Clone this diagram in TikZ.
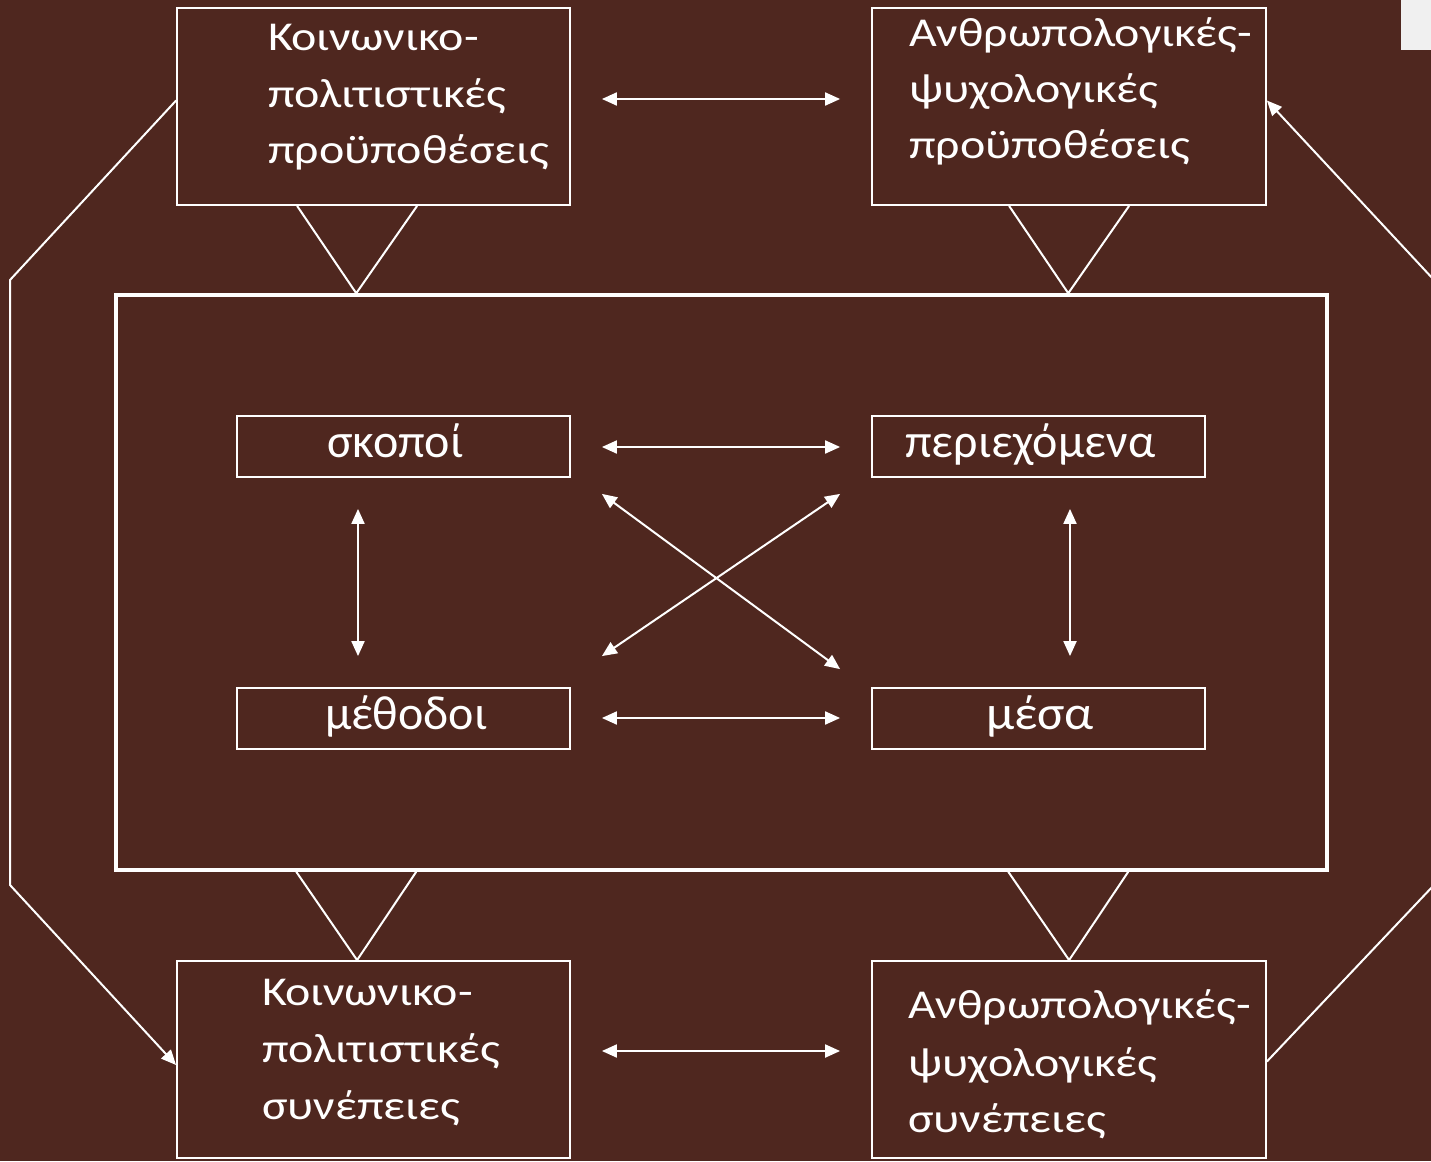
\documentclass[tikz,border=0pt]{standalone}
\usepackage{fontspec}
\setmainfont{Carlito}
\usetikzlibrary{arrows.meta,calc}
\definecolor{bgbrown}{RGB}{79,39,31}
\definecolor{tabgray}{RGB}{240,240,240}
\newcommand{\wideline}[1]{\scalebox{1.17}[1]{#1}}
\tikzset{
  box/.style={draw=white, line width=1.8pt, minimum width=#1, inner sep=0pt},
  bigtxt/.style={text=white, anchor=base west, inner sep=0pt, font=\fontsize{41}{49}\selectfont},
  midtxt/.style={text=white, anchor=base west, inner sep=0pt, font=\fontsize{48}{58}\selectfont},
  con/.style={draw=white, line width=2pt},
  dbl/.style={con, {Triangle[length=15pt,width=13pt]}-{Triangle[length=15pt,width=13pt]}},
  sgl/.style={con, -{Triangle[length=15pt,width=13pt]}},
}
\begin{document}
\begin{tikzpicture}[x=1pt,y=-1pt]
\fill[bgbrown] (0,0) rectangle (1431,1161);
\useasboundingbox (0,0) rectangle (1431,1161);
\fill[tabgray] (1401,0) rectangle (1431,50);

% outer boxes
\node[box=393pt, minimum height=197pt] (tl) at (373.5,106.5) {};
\node[box=394pt, minimum height=197pt] (tr) at (1069,106.5) {};
\node[box=393pt, minimum height=197pt] (bl) at (373.5,1059.5) {};
\node[box=394pt, minimum height=197pt] (br) at (1069,1059.5) {};
% frame
\node[draw=white, line width=3.5pt, minimum width=1211pt, minimum height=575pt, inner sep=0pt] (frame) at (721.5,582.5) {};
% inner boxes
\node[box=333pt, minimum height=61pt] (sk) at (403.5,446.5) {};
\node[box=333pt, minimum height=61pt] (pe) at (1038.5,446.5) {};
\node[box=333pt, minimum height=61pt] (me) at (403.5,718.5) {};
\node[box=333pt, minimum height=61pt] (ms) at (1038.5,718.5) {};

% texts
\node[bigtxt] (tl1) at (268,51) {\wideline{Κοινωνικο-}};
\node[bigtxt] (tl2) at (268,107.5) {\wideline{πολιτιστικές}};
\node[bigtxt] (tl3) at (268,164) {\wideline{προϋποθέσεις}};
\node[bigtxt] (tr1) at (909,47) {\wideline{Ανθρωπολογικές-}};
\node[bigtxt] (tr2) at (909,103) {\wideline{ψυχολογικές}};
\node[bigtxt] (tr3) at (909,159) {\wideline{προϋποθέσεις}};
\node[bigtxt] (bl1) at (262,1005) {\wideline{Κοινωνικο-}};
\node[bigtxt] (bl2) at (262,1062) {\wideline{πολιτιστικές}};
\node[bigtxt] (bl3) at (262,1119) {\wideline{συνέπειες}};
\node[bigtxt] (br1) at (908,1018) {\wideline{Ανθρωπολογικές-}};
\node[bigtxt] (br2) at (908,1076) {\wideline{ψυχολογικές}};
\node[bigtxt] (br3) at (908,1132) {\wideline{συνέπειες}};
\node[midtxt] (skt) at (327,457) {σκοποί};
\node[midtxt] (pet) at (905,457) {περιεχόμενα};
\node[midtxt] (met) at (325,729) {μέθοδοι};
\node[midtxt] (mst) at (986,729) {\scalebox{1.07}[1]{μέσα}};

% V connectors
\draw[con] ($(tl.south west)+(121,0)$) -- ($(frame.north west)+(242,0)$) -- ($(tl.south west)+(241,0)$);
\draw[con] ($(tr.south west)+(138,0)$) -- ($(frame.north west)+(954,0)$) -- ($(tr.south west)+(258,0)$);
\draw[con] ($(frame.south west)+(182,0)$) -- ($(bl.north west)+(181,0)$) -- ($(frame.south west)+(302,0)$);
\draw[con] ($(frame.south west)+(894,0)$) -- ($(br.north west)+(198,0)$) -- ($(frame.south west)+(1014,0)$);

% horizontal arrows
\draw[dbl] ($(tl.east)+(31,-7.5)$) -- ($(tr.west)+(-31,-7.5)$);
\draw[dbl] ($(sk.east)+(31,0.5)$) -- ($(pe.west)+(-31,0.5)$);
\draw[dbl] ($(me.east)+(31,-0.5)$) -- ($(ms.west)+(-31,-0.5)$);
\draw[dbl] ($(bl.east)+(31,-8.5)$) -- ($(br.west)+(-31,-8.5)$);
% vertical arrows
\draw[dbl] ($(sk.south)+(-45.5,31)$) -- ($(me.north)+(-45.5,-31)$);
\draw[dbl] ($(pe.south)+(31.5,31)$) -- ($(ms.north)+(31.5,-31)$);
% diagonals
\draw[dbl] ($(sk.south east)+(31,16)$) -- ($(ms.north west)+(-31,-18)$);
\draw[dbl] ($(pe.south west)+(-31,16)$) -- ($(me.north east)+(31,-31)$);

% outer loops
\coordinate (l1) at (10,280);
\coordinate (l2) at (10,885);
\draw[sgl] ($(tl.west)+(0,-6)$) -- (l1) -- (l2) -- ($(bl.west)+(0,5.5)$);
\coordinate (r1) at (1434,885);
\coordinate (r2) at (1434,280);
\draw[sgl] ($(br.east)+(0,2)$) -- (r1) -- (r2) -- ($(tr.east)+(0,-6)$);
\end{tikzpicture}
\end{document}
